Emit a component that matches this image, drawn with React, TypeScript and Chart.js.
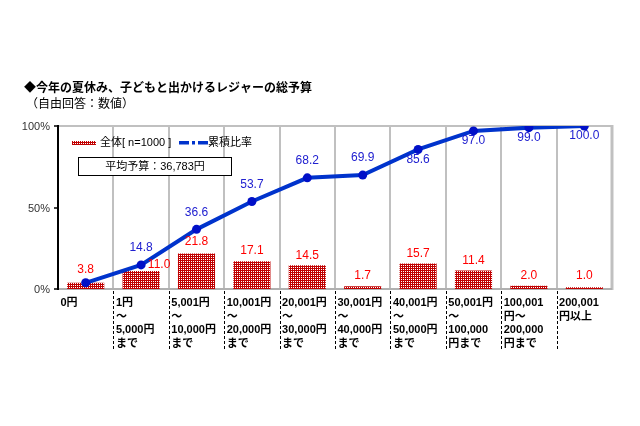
import React, { useEffect, useRef } from "react";
import { Chart, registerables } from "chart.js";

Chart.register(...registerables);

const titleText = "◆今年の夏休み、子どもと出かけるレジャーの総予算";
const subtitleText = "（自由回答：数値）";
const barLegend = "全体[ n=1000 ]";
const lineLegend = "累積比率";
const avgText = "平均予算：36,783円";

const categories: string[][] = [
  ["0円"],
  ["1円", "～", "5,000円", "まで"],
  ["5,001円", "～", "10,000円", "まで"],
  ["10,001円", "～", "20,000円", "まで"],
  ["20,001円", "～", "30,000円", "まで"],
  ["30,001円", "～", "40,000円", "まで"],
  ["40,001円", "～", "50,000円", "まで"],
  ["50,001円", "～", "100,000", "円まで"],
  ["100,001", "円～", "200,000", "円まで"],
  ["200,001", "円以上"],
];
const shareValues = [3.8, 11.0, 21.8, 17.1, 14.5, 1.7, 15.7, 11.4, 2.0, 1.0];
const cumulativeValues = [3.8, 14.8, 36.6, 53.7, 68.2, 69.9, 85.6, 97.0, 99.0, 100.0];
const yTickValues = [0, 50, 100];
const yTickLabels = ["0%", "50%", "100%"];

// label placement styles (not data)
const lineLabelBelow = [false, false, false, false, false, false, true, true, true, true];
const showLineLabel = [false, true, true, true, true, true, true, true, true, true];
const barLabelDx = [0, 18, 0, 0, 0, 0, 0, 0, 0, 0];
const barLabelDy = [-13, -6, -12, -10, -10, -11, -10, -10, -10, -12];

const JP = '"Liberation Sans", "Noto Sans CJK JP", sans-serif';
const RED = "#c00000";
const BLUE = "#0033cc";

function makePattern(): CanvasPattern | string {
  const c = document.createElement("canvas");
  c.width = 2;
  c.height = 2;
  const g = c.getContext("2d");
  if (!g) return RED;
  g.fillStyle = RED;
  g.fillRect(0, 0, 2, 2);
  g.fillStyle = "#ffffff";
  g.fillRect(1, 1, 1, 1);
  const p = g.createPattern(c, "repeat");
  return p || RED;
}

export default function App() {
  const ref = useRef<HTMLCanvasElement | null>(null);

  useEffect(() => {
    const canvas = ref.current;
    if (!canvas) return;
    const pattern = makePattern();

    const decor = {
      id: "decor",
      beforeDatasetsDraw(chart: any) {
        const { ctx, chartArea } = chart;
        const { left, right, top, bottom } = chartArea;
        const x = chart.scales.x;
        const n = categories.length;
        const step = (right - left) / n;
        ctx.save();
        // vertical gridlines
        ctx.strokeStyle = "#c0c0c0";
        ctx.lineWidth = 2;
        for (let i = 1; i < n; i++) {
          const gx = Math.round((x.getPixelForValue(i - 1) + x.getPixelForValue(i)) / 2);
          ctx.beginPath();
          ctx.moveTo(gx, top);
          ctx.lineTo(gx, bottom);
          ctx.stroke();
        }
        // top border, right border
        ctx.beginPath();
        ctx.moveTo(left, top);
        ctx.lineTo(right, top);
        ctx.stroke();
        ctx.lineWidth = 3;
        ctx.beginPath();
        ctx.moveTo(right, top - 1);
        ctx.lineTo(right, bottom + 1);
        ctx.stroke();
        // bottom
        ctx.lineWidth = 2;
        ctx.strokeStyle = "#b0b0b0";
        ctx.beginPath();
        ctx.moveTo(left, bottom);
        ctx.lineTo(right, bottom);
        ctx.stroke();
        ctx.restore();
        void step;
      },
      afterDatasetsDraw(chart: any) {
        const { ctx, chartArea } = chart;
        const { left, right, top, bottom } = chartArea;
        const x = chart.scales.x;
        const y = chart.scales.y;
        const n = categories.length;
        ctx.save();
        // left axis
        ctx.strokeStyle = "#000";
        ctx.lineWidth = 2;
        ctx.beginPath();
        ctx.moveTo(left, top - 1);
        ctx.lineTo(left, bottom + 1);
        ctx.stroke();
        ctx.lineWidth = 1.5;
        yTickValues.forEach((v) => {
          const ty = Math.round(y.getPixelForValue(v));
          ctx.beginPath();
          ctx.moveTo(left - 4, ty);
          ctx.lineTo(left, ty);
          ctx.stroke();
        });
        // y tick labels
        ctx.fillStyle = "#333";
        ctx.font = "11px " + JP;
        ctx.textAlign = "right";
        ctx.textBaseline = "middle";
        yTickValues.forEach((v, i) => {
          ctx.fillText(yTickLabels[i], left - 8, y.getPixelForValue(v) + 1);
        });
        // dashed separators and x labels
        ctx.strokeStyle = "#000";
        ctx.lineWidth = 1;
        ctx.setLineDash([3, 2]);
        for (let i = 1; i < n; i++) {
          const gx = Math.round((x.getPixelForValue(i - 1) + x.getPixelForValue(i)) / 2) + 0.5;
          ctx.beginPath();
          ctx.moveTo(gx, bottom + 2);
          ctx.lineTo(gx, bottom + 60);
          ctx.stroke();
        }
        ctx.setLineDash([]);
        ctx.fillStyle = "#000";
        ctx.font = "bold 11px " + JP;
        ctx.textAlign = "left";
        ctx.textBaseline = "middle";
        const step = (right - left) / n;
        categories.forEach((lines, i) => {
          const lx = x.getPixelForValue(i) - step / 2 + 2.5;
          lines.forEach((t, j) => {
            ctx.fillText(t, lx, bottom + 14 + j * 13.5);
          });
        });
        // bar value labels
        const barMeta = chart.getDatasetMeta(0);
        ctx.font = "12px " + JP;
        ctx.textAlign = "center";
        ctx.fillStyle = "#ff0000";
        barMeta.data.forEach((el: any, i: number) => {
          ctx.fillText(shareValues[i].toFixed(1), el.x + barLabelDx[i], el.y + barLabelDy[i]);
        });
        ctx.restore();
      },
      afterDraw(chart: any) {
        const { ctx } = chart;
        ctx.save();
        // line value labels
        const lineMeta = chart.getDatasetMeta(1);
        ctx.font = "12px " + JP;
        ctx.textAlign = "center";
        ctx.textBaseline = "middle";
        ctx.fillStyle = "#2020d0";
        lineMeta.data.forEach((el: any, i: number) => {
          if (!showLineLabel[i]) return;
          const dy = lineLabelBelow[i] ? 10 : -17;
          ctx.fillText(cumulativeValues[i].toFixed(1), el.x, el.y + dy);
        });
        // title
        ctx.fillStyle = "#000";
        ctx.textAlign = "left";
        ctx.font = 'bold 12px "Noto Sans CJK JP", sans-serif';
        ctx.fillText(titleText, 24, 87);
        ctx.font = '12px "Noto Sans CJK JP", sans-serif';
        ctx.fillText(subtitleText, 26, 103);
        // legend
        ctx.fillStyle = pattern as any;
        ctx.fillRect(72, 141, 24, 4);
        ctx.fillStyle = "#000";
        ctx.font = "11px " + JP;
        ctx.fillText(barLegend, 100, 143);
        ctx.fillStyle = BLUE;
        ctx.fillRect(179, 141, 10, 3.5);
        ctx.fillRect(192, 141, 3, 3.5);
        ctx.fillRect(198, 141, 10, 3.5);
        ctx.fillStyle = "#000";
        ctx.fillText(lineLegend, 208, 143);
        // average box
        ctx.fillStyle = "#fff";
        ctx.fillRect(78, 157, 154, 19);
        ctx.strokeStyle = "#000";
        ctx.lineWidth = 1;
        ctx.strokeRect(78.5, 157.5, 153, 18);
        ctx.fillStyle = "#000";
        ctx.textAlign = "center";
        ctx.fillText(avgText, 155, 167);
        ctx.restore();
      },
    };

    const chart = new Chart(canvas, {
      type: "bar",
      data: {
        labels: categories.map((c) => c.join("")),
        datasets: [
          {
            type: "bar",
            label: barLegend,
            data: shareValues,
            backgroundColor: pattern as any,
            borderWidth: 0,
            barPercentage: 0.67,
            categoryPercentage: 1.0,
            order: 2,
          },
          {
            type: "line",
            label: lineLegend,
            data: cumulativeValues,
            borderColor: BLUE,
            backgroundColor: BLUE,
            borderWidth: 4,
            pointRadius: 4.5,
            pointBackgroundColor: "#0010c8",
            pointBorderWidth: 0,
            tension: 0,
            order: 1,
          } as any,
        ],
      },
      options: {
        responsive: false,
        animation: false,
        layout: { padding: { left: 58, right: 28, top: 126, bottom: 137 } },
        plugins: { legend: { display: false }, tooltip: { enabled: false }, title: { display: false } },
        scales: {
          x: { display: false },
          y: { display: false, min: 0, max: 100 },
        },
      },
      plugins: [decor],
    });
    return () => chart.destroy();
  }, []);

  return (
    <div style={{ position: "absolute", left: 0, top: 0, width: 640, height: 426, background: "#fff" }}>
      <canvas ref={ref} width={640} height={426} />
    </div>
  );
}
